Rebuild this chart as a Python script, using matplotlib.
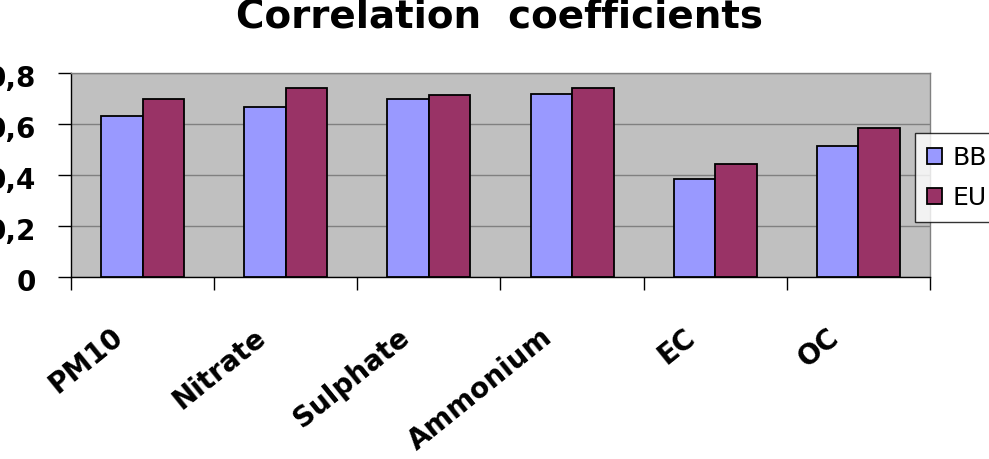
import matplotlib
matplotlib.use("Agg")
import matplotlib.pyplot as plt
import numpy as np
from matplotlib.transforms import ScaledTranslation

plt.rcParams['font.family'] = ['DejaVu Sans']

categories = ["PM10", "Nitrate", "Sulphate", "Ammonium", "EC", "OC"]
bb_values = [0.631, 0.665, 0.697, 0.716, 0.383, 0.515]
eu_values = [0.698, 0.740, 0.714, 0.740, 0.442, 0.583]
series_names = ["BB", "EU"]
yticks = [0, 0.2, 0.4, 0.6, 0.8]
ytick_labels = ["0", "0,2", "0,4", "0,6", "0,8"]

fig = plt.figure(figsize=(9.89, 4.59), dpi=100)
ax = fig.add_axes([0.0718, 0.3965, 0.8685, 0.4445])
ax.set_facecolor("#C0C0C0")

x = np.arange(len(categories))
w = 0.29
ax.bar(x - w / 2, bb_values, w, color="#9999FF", edgecolor="black", linewidth=1.3,
       label=series_names[0], zorder=3)
ax.bar(x + w / 2, eu_values, w, color="#993366", edgecolor="black", linewidth=1.3,
       label=series_names[1], zorder=3)

ax.set_xlim(-0.5, len(categories) - 0.5)
ax.set_ylim(0, 0.8)

ax.set_yticks(yticks)
ax.set_yticklabels(ytick_labels, fontsize=20, fontweight="bold")
ax.tick_params(axis="y", length=9.4, width=1, pad=16, color="black")
for lab in ax.get_yticklabels():
    lab.set_transform(lab.get_transform() + ScaledTranslation(0, -3 / 100, fig.dpi_scale_trans))
ax.yaxis.grid(True, color="#808080", linewidth=1, zorder=0)

# category boundary ticks
ax.set_xticks(np.arange(len(categories) + 1) - 0.5)
ax.set_xticklabels([])
ax.tick_params(axis="x", which="major", length=9, width=1, color="black")
ax.set_xticks(x, minor=True)
ax.set_xticklabels(categories, minor=True, fontsize=20, fontweight="bold",
                   rotation=39, ha="right", va="top")
ax.tick_params(axis="x", which="minor", length=0, pad=33)
for lab in ax.get_xticklabels(minor=True):
    lab.set_transform(lab.get_transform() + ScaledTranslation(-14 / 100, 0, fig.dpi_scale_trans))

for side in ["top", "right"]:
    ax.spines[side].set_color("#808080")
    ax.spines[side].set_linewidth(1)
for side in ["left", "bottom"]:
    ax.spines[side].set_color("black")
    ax.spines[side].set_linewidth(1)

fig.text(0.505, 0.941, "Correlation  coefficients", ha="center", va="baseline",
         fontsize=28, fontweight="bold")

leg = fig.legend(loc="upper left", bbox_to_anchor=(0.925, 0.71), borderaxespad=0,
                 fontsize=18, frameon=True, fancybox=False, edgecolor="black",
                 handlelength=0.6, handleheight=0.6, handletextpad=0.4,
                 labelspacing=0.65, borderpad=0.5)
leg.get_frame().set_linewidth(1)

fig.savefig("out.png", dpi=100)
